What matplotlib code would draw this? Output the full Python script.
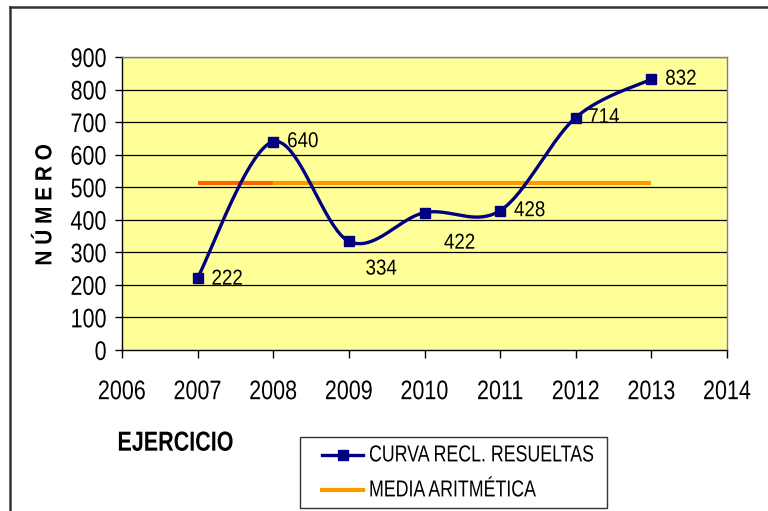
import matplotlib
matplotlib.use("Agg")
import matplotlib.pyplot as plt
from matplotlib.lines import Line2D
from matplotlib.patches import Rectangle
from matplotlib.patheffects import AbstractPathEffect
from matplotlib.transforms import Affine2D
import numpy as np

# datos del grafico
years = [2007, 2008, 2009, 2010, 2011, 2012, 2013]
resueltas = [222, 640, 334, 422, 428, 714, 832]
media = [513, 513, 513, 513, 513, 513, 513]

x_ticks = [2006, 2007, 2008, 2009, 2010, 2011, 2012, 2013, 2014]
y_ticks = [0, 100, 200, 300, 400, 500, 600, 700, 800, 900]
series_names = ['CURVA RECL. RESUELTAS', 'MEDIA ARITMÉTICA']

FONT = ['Liberation Sans', 'DejaVu Sans']
NAVY = '#000080'
W, H = 768, 511


class Tall(AbstractPathEffect):
    # estira el texto en vertical (la fuente del original es mas alta y estrecha)
    def __init__(self, k):
        super().__init__()
        self.k = k

    def draw_path(self, renderer, gc, tpath, affine, rgbFace=None):
        stretch = Affine2D().translate(0, -36).scale(1, self.k).translate(0, 36)
        renderer.draw_path(gc, tpath, stretch + affine, rgbFace)


def px(x, y):
    # pixeles de la imagen -> fraccion de figura
    return x / W, 1 - y / H


def smooth_curve(xs, ys, n=40):
    # suavizado tipo Excel (Catmull-Rom con bezier)
    xs = np.asarray(xs, float)
    ys = np.asarray(ys, float)
    qx = np.concatenate([[xs[0]], xs, [xs[-1]]])
    qy = np.concatenate([[ys[0]], ys, [ys[-1]]])
    out_x, out_y = [], []
    t = np.linspace(0, 1, n)
    for i in range(1, len(qx) - 2):
        p0 = np.array([qx[i], qy[i]])
        p3 = np.array([qx[i + 1], qy[i + 1]])
        c1 = p0 + (p3 - np.array([qx[i - 1], qy[i - 1]])) / 6
        c2 = p3 - (np.array([qx[i + 2], qy[i + 2]]) - p0) / 6
        b = ((1 - t) ** 3)[:, None] * p0 + (3 * (1 - t) ** 2 * t)[:, None] * c1 \
            + (3 * (1 - t) * t ** 2)[:, None] * c2 + (t ** 3)[:, None] * p3
        out_x.extend(b[:, 0])
        out_y.extend(b[:, 1])
    return np.array(out_x), np.array(out_y)


fig = plt.figure(figsize=(7.68, 5.11), dpi=100)
ax = fig.add_axes([122 / W, 1 - 350 / H, 605 / W, 293 / H])
ax.set_facecolor('#FFFF99')

# marco exterior
fig.add_artist(Line2D([10 / W, 10 / W], [0, 1 - 7 / H], transform=fig.transFigure,
                      color='#333333', lw=1.8))
fig.add_artist(Line2D([10 / W, 1], [1 - 7 / H, 1 - 7 / H], transform=fig.transFigure,
                      color='#333333', lw=1.8))

for y in y_ticks[1:]:
    ax.axhline(y, color='#000000', lw=0.9, zorder=1)

# media aritmetica
ax.plot(years[:2], media[:2], color='#FF6600', lw=3, zorder=2, solid_capstyle='butt')
ax.plot(years[1:], media[1:], color='#FF9900', lw=3, zorder=2, solid_capstyle='butt')

sx, sy = smooth_curve(years, resueltas)
ax.plot(sx, sy, color=NAVY, lw=2.4, zorder=3)
ax.plot(years, resueltas, 's', color=NAVY, ms=7.5, zorder=4)

label_offsets = [(10, -1), (10, 0), (12, -20), (14, -22), (10, 0), (9, 0), (10, 0)]
for x, y, off in zip(years, resueltas, label_offsets):
    ax.annotate(str(y), (x, y), xytext=off, textcoords='offset points',
                ha='left', va='center', fontsize=13.5, family=FONT, zorder=5,
                path_effects=[Tall(1.15)])

ax.set_xlim(2006, 2014)
ax.set_ylim(0, 900)
ax.set_xticks(x_ticks)
ax.set_yticks(y_ticks)
ax.tick_params(axis='x', direction='out', length=6, width=1, pad=16.5)
ax.tick_params(axis='y', direction='out', length=5, width=1, pad=6)
for lab in ax.get_xticklabels() + ax.get_yticklabels():
    lab.set_family(FONT)
    lab.set_fontsize(15.5)
    lab.set_path_effects([Tall(1.25)])

for s in ['left', 'bottom']:
    ax.spines[s].set_color('black')
    ax.spines[s].set_linewidth(1)
for s in ['right', 'top']:
    ax.spines[s].set_color('#808080')
    ax.spines[s].set_linewidth(1)

fig.text(*px(45, 205), 'N Ú M E R O', rotation=90, ha='center', va='center',
         fontsize=15, fontweight='bold', family=FONT, path_effects=[Tall(1.12)])
fig.text(*px(175, 443), 'EJERCICIO', ha='center', va='center',
         fontsize=15.5, fontweight='bold', family=FONT, path_effects=[Tall(1.28)])

# leyenda dibujada a mano
x0, y0 = px(300, 508)
x1, y1 = px(607, 437)
fig.add_artist(Rectangle((x0, y0), x1 - x0, y1 - y0, transform=fig.transFigure,
                         facecolor='white', edgecolor='#333333', lw=1))
ya = px(0, 455)[1]
yb = px(0, 490)[1]
fig.add_artist(Line2D([322 / W, 363 / W], [ya, ya], transform=fig.transFigure,
                      color=NAVY, lw=2.4))
fig.add_artist(Line2D([342.5 / W], [ya], transform=fig.transFigure,
                      color=NAVY, marker='s', ms=7))
fig.add_artist(Line2D([322 / W, 363 / W], [yb, yb], transform=fig.transFigure,
                      color='#FF9900', lw=3))
for yy, name in zip([ya, yb], series_names):
    fig.text(369 / W, yy, name, ha='left', va='center', fontsize=12.8, family=FONT,
             path_effects=[Tall(1.3)])

fig.savefig('out.png', dpi=100)
